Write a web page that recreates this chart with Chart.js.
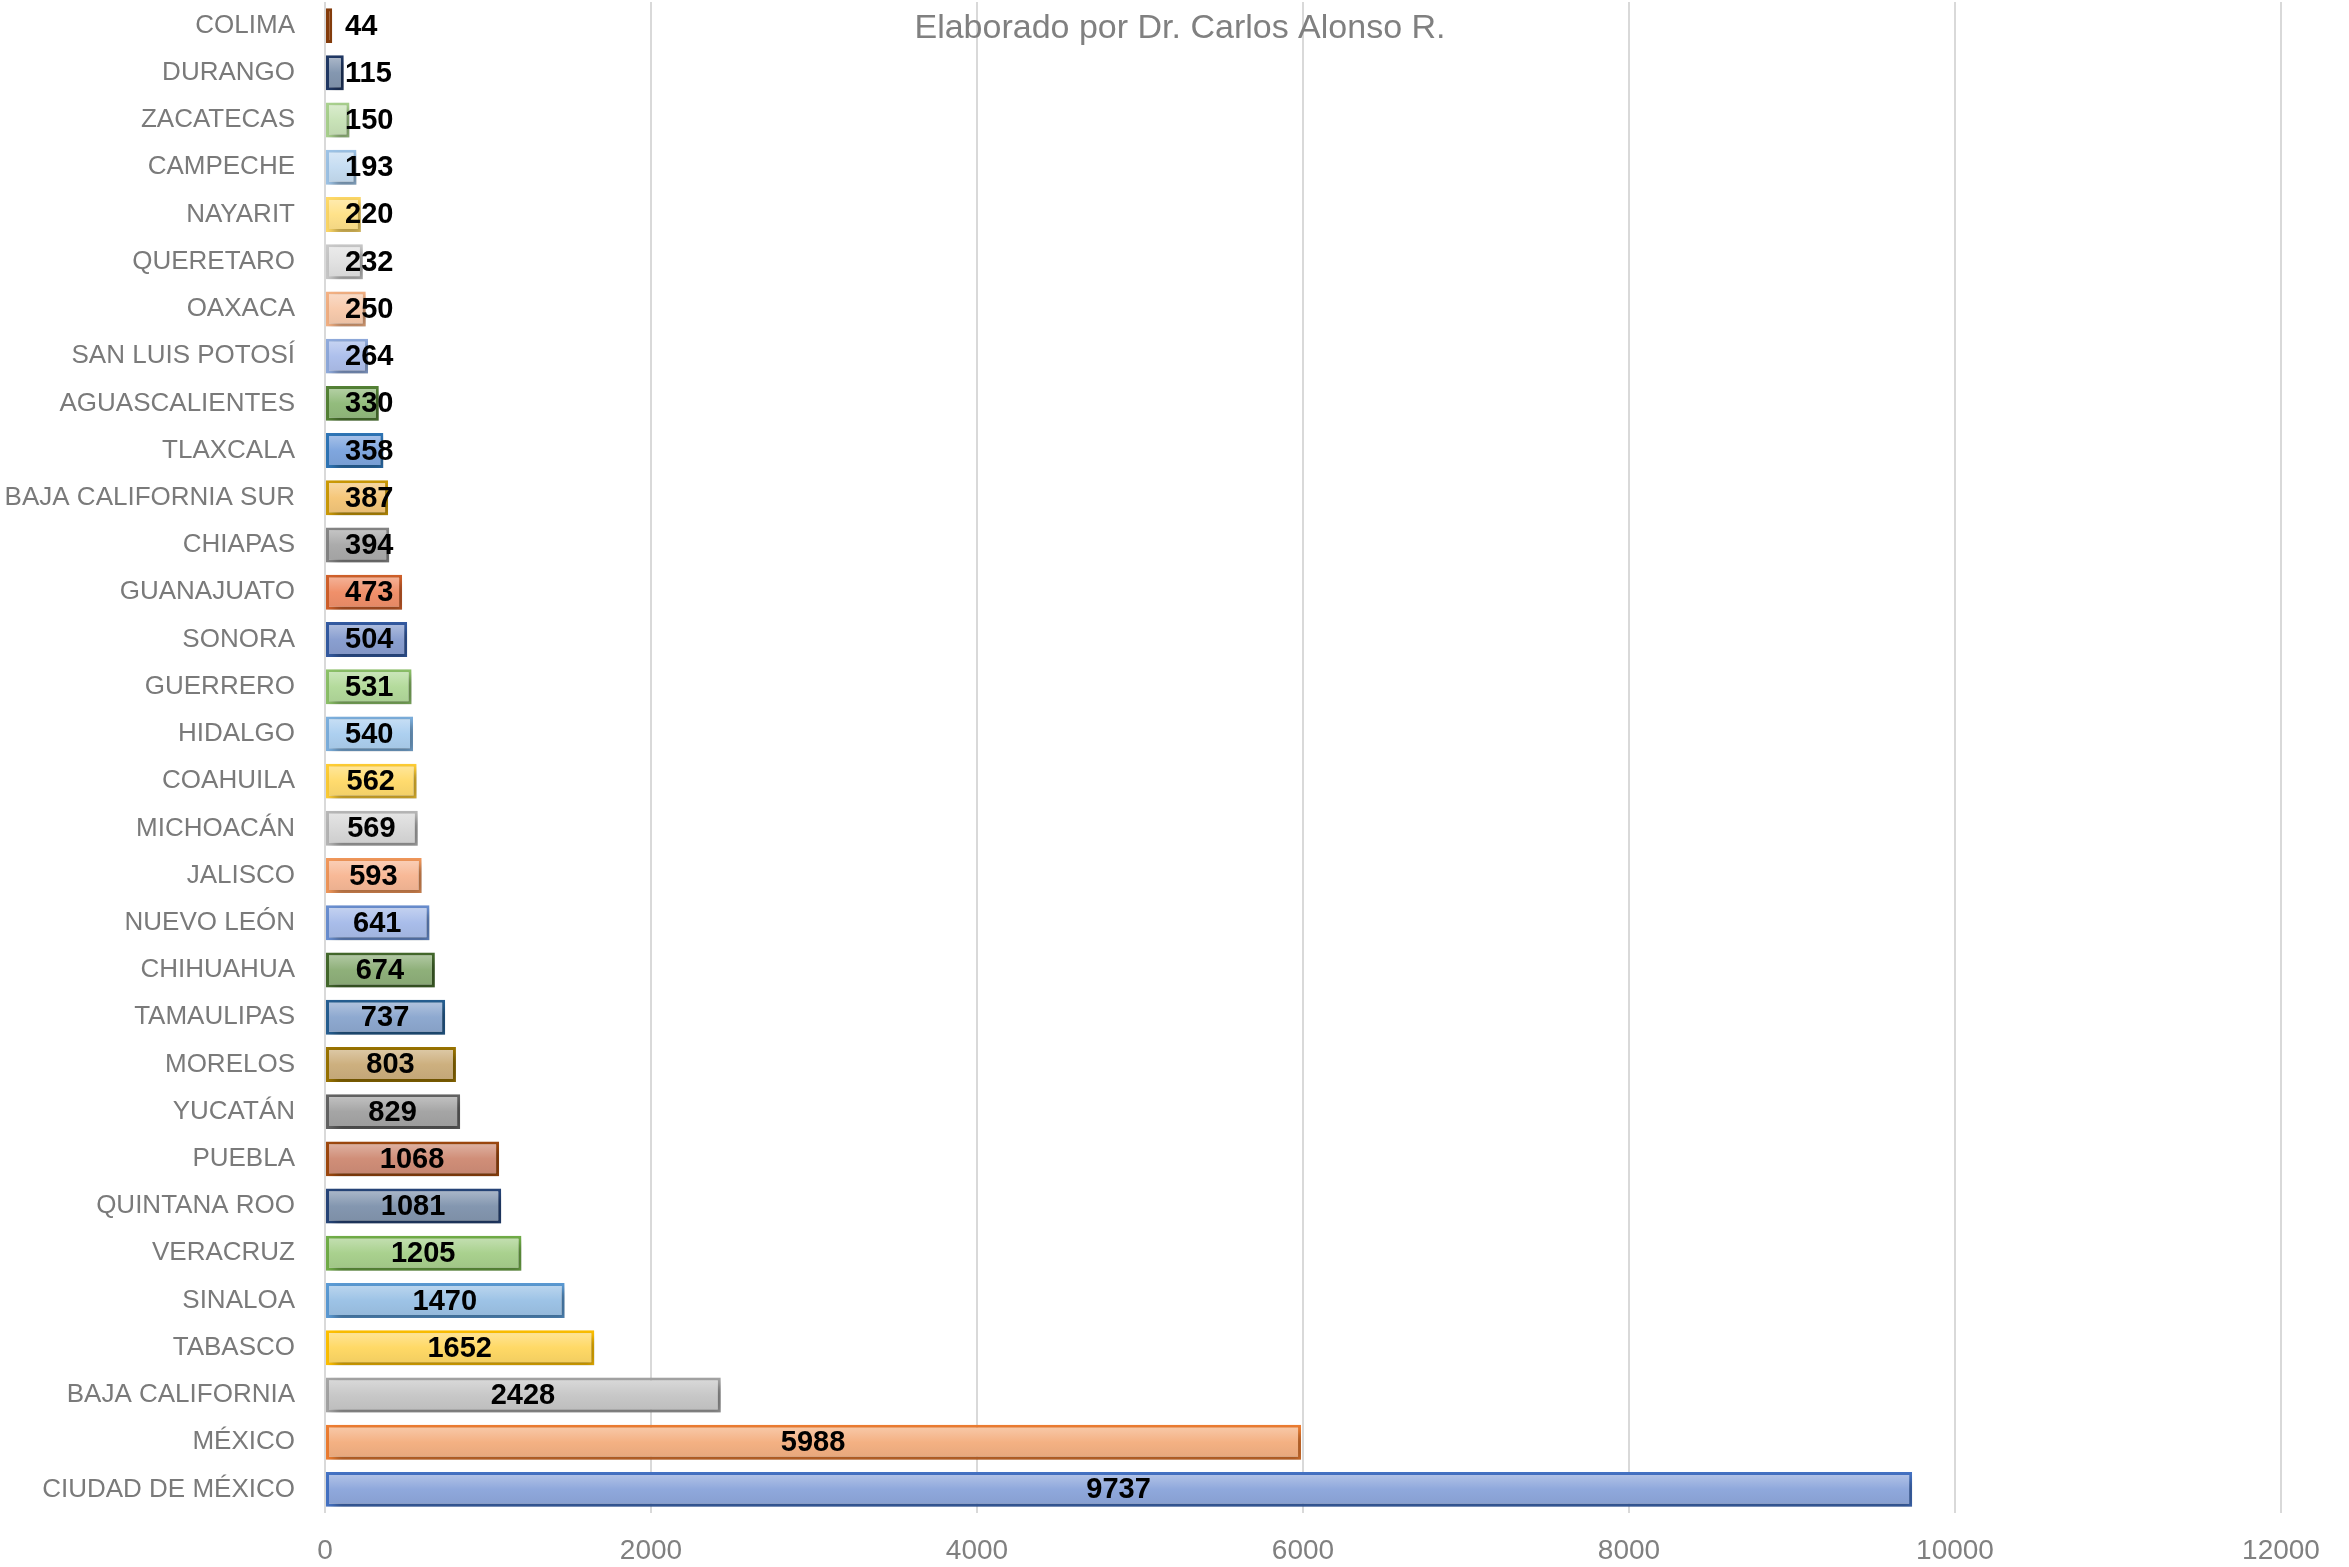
<!DOCTYPE html>
<html>
<head>
<meta charset="utf-8">
<script src="https://cdn.jsdelivr.net/npm/chart.js@4.4.1/dist/chart.umd.min.js"></script>
<style>
  html, body { margin: 0; padding: 0; background: #fff; overflow: hidden; }
  #wrap { width: 2349px; height: 1567px; overflow: hidden; }
  canvas { display: block; }
</style>
</head>
<body>
<div id="wrap"><canvas id="casesChart" width="2349" height="1573"></canvas></div>
<script>
// Datos (de arriba hacia abajo)
const states = [
  'COLIMA', 'DURANGO', 'ZACATECAS', 'CAMPECHE', 'NAYARIT', 'QUERETARO', 'OAXACA',
  'SAN LUIS POTOSÍ', 'AGUASCALIENTES', 'TLAXCALA', 'BAJA CALIFORNIA SUR', 'CHIAPAS',
  'GUANAJUATO', 'SONORA', 'GUERRERO', 'HIDALGO', 'COAHUILA', 'MICHOACÁN', 'JALISCO',
  'NUEVO LEÓN', 'CHIHUAHUA', 'TAMAULIPAS', 'MORELOS', 'YUCATÁN', 'PUEBLA',
  'QUINTANA ROO', 'VERACRUZ', 'SINALOA', 'TABASCO', 'BAJA CALIFORNIA', 'MÉXICO',
  'CIUDAD DE MÉXICO'
];
const cases = [
  44, 115, 150, 193, 220, 232, 250, 264, 330, 358, 387, 394, 473, 504, 531, 540,
  562, 569, 593, 641, 674, 737, 803, 829, 1068, 1081, 1205, 1470, 1652, 2428, 5988, 9737
];
const xTicks = [0, 2000, 4000, 6000, 8000, 10000, 12000];
const subtitle = 'Elaborado por Dr. Carlos Alonso R.';

// Colores por barra (mismo orden)
const fills = [
  '#F4B183', '#8497B0', '#C9E3B8', '#C6DDF2', '#FFE28A', '#E2E2E2', '#F8CBAD',
  '#AEC0EC', '#93BC7D', '#7FA6DE', '#F5C77A', '#ABABAB', '#F0906A', '#8A9FD0',
  '#B4DB9C', '#ADD0F0', '#FFDB6E', '#D9D9D9', '#F8B997', '#A9BDEA', '#8FB07A',
  '#8EA9D0', '#CDB07F', '#A5A5A5', '#D08E78', '#8497B0', '#A9D18E', '#9DC3E6',
  '#FFD966', '#C8C8C8', '#F4B183', '#8FA8DC'
];
const borders = [
  '#843C0C', '#203864', '#A9D18E', '#9DC3E6', '#FFD966', '#C9C9C9', '#F4B183',
  '#8FAADC', '#548235', '#2E75B6', '#CC9A06', '#848484', '#D0602A', '#335AA1',
  '#8CC168', '#7CAFDD', '#FFCD33', '#B7B7B7', '#F1975A', '#698ED0', '#43682B',
  '#255E91', '#997300', '#636363', '#9E480E', '#264478', '#70AD47', '#5B9BD5',
  '#FFC000', '#A5A5A5', '#ED7D31', '#4472C4'
];

function shade(hex, amt) {
  const n = parseInt(hex.slice(1), 16);
  let r = (n >> 16) & 255, g = (n >> 8) & 255, b = n & 255;
  const f = v => Math.max(0, Math.min(255, Math.round(amt > 0 ? v + (255 - v) * amt : v * (1 + amt))));
  return `rgb(${f(r)},${f(g)},${f(b)})`;
}

const barShadow = {
  id: 'barShadow',
  beforeDatasetDraw(chart) {
    const c = chart.ctx;
    c.save();
    c.shadowColor = 'rgba(0,0,0,0.35)';
    c.shadowBlur = 9;
    c.shadowOffsetX = 5;
    c.shadowOffsetY = 5;
  },
  afterDatasetDraw(chart) {
    chart.ctx.restore();
  }
};

const valueLabels = {
  id: 'valueLabels',
  afterDatasetsDraw(chart) {
    const c = chart.ctx;
    const meta = chart.getDatasetMeta(0);
    const x0 = chart.scales.x.getPixelForValue(0);
    c.save();
    c.font = 'bold 29px "Liberation Sans", Arial, sans-serif';
    c.fillStyle = '#000';
    c.textBaseline = 'middle';
    c.textAlign = 'left';
    meta.data.forEach((bar, i) => {
      const txt = String(cases[i]);
      const w = c.measureText(txt).width;
      const left = Math.max((x0 + bar.x) / 2 - w / 2, x0 + 20);
      c.fillText(txt, left, bar.y + 1);
    });
    c.restore();
  }
};

const subtitleText = {
  id: 'subtitleText',
  afterDraw(chart) {
    const c = chart.ctx;
    c.save();
    c.font = '34px "Liberation Sans", Arial, sans-serif';
    c.fillStyle = '#808080';
    c.textAlign = 'center';
    c.textBaseline = 'middle';
    c.fillText(subtitle, 1180, 29);
    c.restore();
  }
};

const ctx = document.getElementById('casesChart').getContext('2d');
new Chart(ctx, {
  type: 'bar',
  data: {
    labels: states,
    datasets: [{
      data: cases,
      backgroundColor: context => {
        const chart = context.chart;
        const i = context.dataIndex;
        const y = chart.scales.y;
        if (!chart.chartArea || !y || i === undefined) return fills[i];
        const yc = y.getPixelForValue(i);
        const half = (chart.chartArea.height / states.length) * 0.74 / 2;
        const g = chart.ctx.createLinearGradient(0, yc - half, 0, yc + half);
        g.addColorStop(0, shade(fills[i], 0.35));
        g.addColorStop(0.5, fills[i]);
        g.addColorStop(1, shade(fills[i], -0.06));
        return g;
      },
      borderColor: borders,
      borderWidth: 3,
      borderSkipped: false,
      barPercentage: 0.74,
      categoryPercentage: 1.0
    }]
  },
  options: {
    indexAxis: 'y',
    responsive: false,
    animation: false,
    devicePixelRatio: 1,
    layout: { padding: { top: 2, right: 68, bottom: 0, left: 0 } },
    plugins: {
      legend: { display: false },
      title: { display: false },
      tooltip: { enabled: false }
    },
    scales: {
      x: {
        min: 0,
        max: 12000,
        afterBuildTicks: s => { s.ticks = xTicks.map(v => ({ value: v })); },
        afterFit: s => { s.height = 60; },
        ticks: {
          padding: 21,
          color: '#808080',
          callback: v => String(v),
          font: { family: '"Liberation Sans", Arial, sans-serif', size: 28 }
        },
        grid: { color: '#d9d9d9', lineWidth: 2, drawTicks: false },
        border: { display: false }
      },
      y: {
        afterFit: s => { s.width = 325; s.paddingTop = 0; s.paddingBottom = 0; },
        ticks: {
          padding: 30,
          color: '#7a7a7a',
          font: { family: '"Liberation Sans", Arial, sans-serif', size: 26 }
        },
        grid: { display: false, drawTicks: false },
        border: { display: false }
      }
    }
  },
  plugins: [barShadow, valueLabels, subtitleText]
});
</script>
</body>
</html>
